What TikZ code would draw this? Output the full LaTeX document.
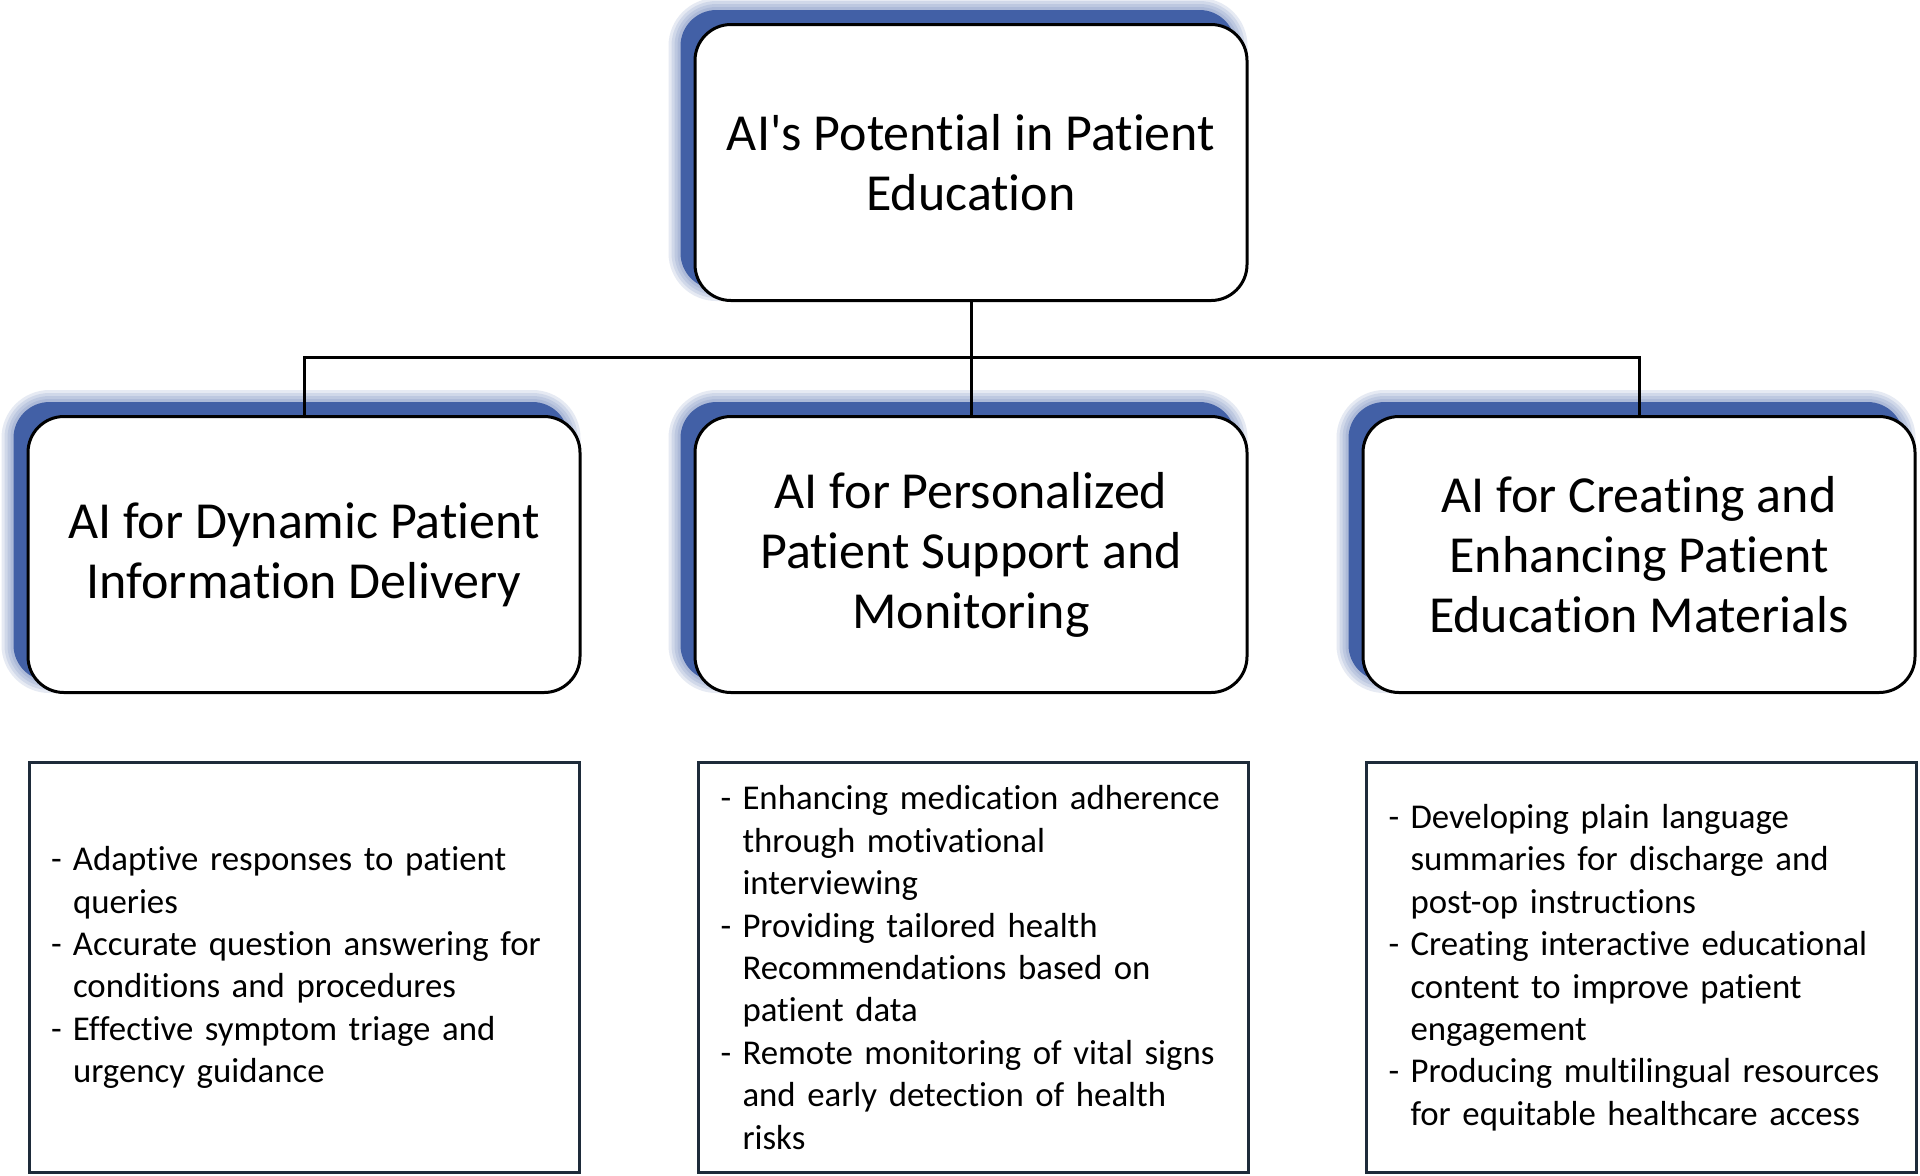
\documentclass[tikz,border=0pt]{standalone}
\usepackage{fontspec}
\setmainfont{Carlito}[Ligatures={TeXOff,NoCommon}]
\usetikzlibrary{backgrounds}
\definecolor{shadowblue}{RGB}{66,96,166}
\definecolor{listframe}{RGB}{30,43,58}
\newcommand\bdash{\makebox[11pt][l]{-}}
\newcommand\bind{\hspace*{11pt}}
\tikzset{
  headbox/.style={draw=black, line width=1.5pt, fill=white, rounded corners=18pt,
    minimum width=276pt, minimum height=138pt, align=center, inner sep=0pt,
    font=\fontsize{26}{30}\selectfont},
  listbox/.style={draw=listframe, line width=1.5pt, fill=white,
    text width=253pt, inner xsep=11pt, inner ysep=0pt, minimum height=205pt, align=left,
    font=\fontsize{17.4}{21.2}\selectfont},
  conn/.style={draw=black, line width=1.5pt},
}
\newcommand\bluehalo[1]{%
  \foreach \w in {12,9,6,3}{%
    \draw[shadowblue, opacity=0.13, line width=\w pt, rounded corners=18pt]
      ([shift={(-13,-13)}]#1.south west) rectangle ([shift={(-13,-13)}]#1.north east);}
  \fill[shadowblue, rounded corners=18pt]
      ([shift={(-13,-13)}]#1.south west) rectangle ([shift={(-13,-13)}]#1.north east);
}
\begin{document}
\begin{tikzpicture}[x=0.5pt, y=-0.5pt]
\useasboundingbox (0,0) rectangle (1920,1175);

\node[headbox] (top) at (971,162.5) {AI's Potential in Patient\\Education};
\node[headbox] (l2a) at (304,554.5) {AI for Dynamic Patient\\Information Delivery};
\node[headbox] (l2b) at (971,554.5) {AI for Personalized\\Patient Support and\\Monitoring};
\node[headbox] (l2c) at (1639,554.5) {AI for Creating and\\Enhancing Patient\\Education Materials};

\begin{scope}[on background layer]
\fill[white] (0,0) rectangle (1920,1175);
\bluehalo{top}
\bluehalo{l2a}
\bluehalo{l2b}
\bluehalo{l2c}
\end{scope}

\coordinate (j) at (971,357.5);
\draw[conn] (top.south) -- (l2b.north);
\draw[conn] (l2a.north) |- (j) -| (l2c.north);

\node[listbox] (d1) at (304,967.5) {\bdash Adaptive responses to patient\\\bind queries\\\bdash Accurate question answering for\\\bind conditions and procedures\\\bdash Effective symptom triage and\\\bind urgency guidance};
\node[listbox] (d2) at (973.5,967.5) {\bdash Enhancing medication adherence\\\bind through motivational\\\bind interviewing\\\bdash Providing tailored health\\\bind Recommendations based on\\\bind patient data\\\bdash Remote monitoring of vital signs\\\bind and early detection of health\\\bind risks};
\node[listbox] (d3) at (1641.5,967.5) {\bdash Developing plain language\\\bind summaries for discharge and\\\bind post-op instructions\\\bdash Creating interactive educational\\\bind content to improve patient\\\bind engagement\\\bdash Producing multilingual resources\\\bind for equitable healthcare access};
\end{tikzpicture}
\end{document}
